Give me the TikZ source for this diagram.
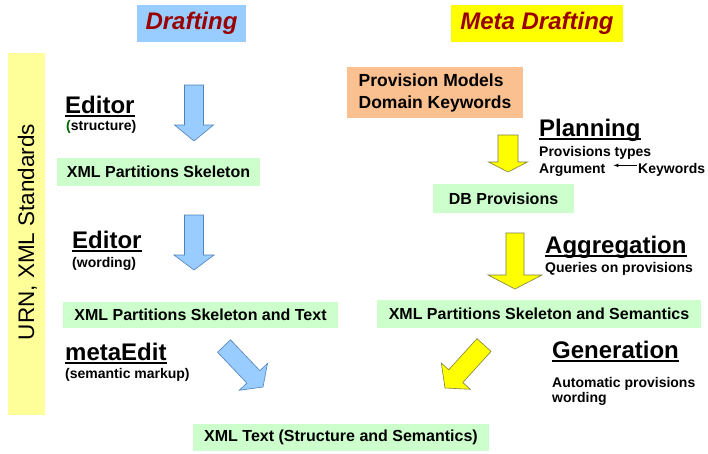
\documentclass[tikz,border=0pt]{standalone}
\usepackage{fontspec}
\setmainfont{Liberation Sans}
\usetikzlibrary{calc}
\definecolor{skyb}{HTML}{99CCFF}
\definecolor{skyline}{HTML}{4F81BD}
\definecolor{ylw}{HTML}{FFFF00}
\definecolor{ylwline}{HTML}{7F7F3F}
\definecolor{paleylw}{HTML}{FFFF99}
\definecolor{palegrn}{HTML}{CCFFCC}
\definecolor{peach}{HTML}{FAC090}
\definecolor{dred}{HTML}{990000}
\definecolor{dgrn}{HTML}{006600}
\newcommand\ulin[1]{\setbox0\hbox{#1}\rlap{\rule[-3.5pt]{\wd0}{1.8pt}}\box0}
% block arrow: tail, tip, half shaft, half head, head length, style
\newcommand\blockarrow[6]{%
  \path[#6] ($#1!#3!90:#2$) -- ($($#2!#5!#1$)!#3!90:#2$) -- ($($#2!#5!#1$)!#4!90:#2$) -- #2
    -- ($($#2!#5!#1$)!#4!-90:#2$) -- ($($#2!#5!#1$)!#3!-90:#2$) -- ($#1!#3!-90:#2$) -- cycle;}
\begin{document}
\begin{tikzpicture}[x=1pt,y=-1pt,
  gbox/.style={fill=palegrn, inner sep=0pt, font=\bfseries\fontsize{16}{19}\selectfont},
  head/.style={anchor=base west, inner sep=0pt, font=\bfseries\fontsize{24}{28}\selectfont},
  small/.style={anchor=base west, inner sep=0pt, font=\bfseries\fontsize{14}{17}\selectfont},
  title/.style={inner sep=0pt, text=dred, font=\bfseries\itshape\fontsize{24}{28}\selectfont},
  bluearrow/.style={fill=skyb, draw=skyline, line width=0.6pt, line join=miter},
  yelarrow/.style={fill=ylw, draw=ylwline, line width=0.6pt, line join=miter}]
\useasboundingbox (0,0) rectangle (708,453);
\fill[white] (0,0) rectangle (708,453);
% titles
\node[title, fill=skyb, minimum width=109pt, minimum height=37pt] (draft) at (191.5,23.5) {Drafting};
\node[title, fill=ylw, minimum width=172pt, minimum height=37pt] (meta) at (537,23.5) {Meta Drafting};
% side bar
\node[fill=paleylw, minimum width=37pt, minimum height=362pt, inner sep=0pt] (bar) at (26.5,234) {};
\node[rotate=90, anchor=base, inner sep=0pt, font=\fontsize{22.5}{27}\selectfont] (urn) at (34,232) {URN, XML Standards};
% left column
\node[head] (ed1) at (65,113) {\ulin{Editor}};
\node[small] (ed1s) at (66,130) {\textcolor{dgrn}{(}structure)};
\node[gbox, minimum width=203pt, minimum height=28pt] (skel) at (158.5,172) {XML Partitions Skeleton};
\node[head] (ed2) at (72,248) {\ulin{Editor}};
\node[small] (ed2s) at (72,267) {(wording)};
\node[gbox, minimum width=275pt, minimum height=26pt] (skeltext) at (200.5,315) {XML Partitions Skeleton and Text};
\node[head] (medit) at (65,360) {\ulin{metaEdit}};
\node[small] (medits) at (65,378) {(semantic markup)};
% right column
\node[fill=peach, minimum width=176pt, minimum height=51pt, inner sep=0pt, align=left,
      font=\bfseries\fontsize{17.5}{22}\selectfont] (models) at (435,92.5) {Provision Models\\Domain Keywords};
\node[head] (plan) at (539,136) {\ulin{Planning}};
\node[small] (ptypes) at (539,156) {Provisions types};
\node[small] (arg) at (539,173) {Argument};
\node[small] (kw) at (638,173) {Keywords};
\draw[-latex, line width=0.7pt, shorten <=1pt, shorten >=8pt] (kw.west) ++(0,-4) coordinate (kwl) -- (kwl -| arg.east);
\node[gbox, minimum width=141pt, minimum height=29pt] (dbprov) at (503.5,198.5) {DB Provisions};
\node[head] (aggr) at (545,253) {\ulin{Aggregation}};
\node[small] (queries) at (545,272) {Queries on provisions};
\node[gbox, minimum width=324pt, minimum height=28pt] (skelsem) at (539,314) {XML Partitions Skeleton and Semantics};
\node[head] (gen) at (552,358) {\ulin{Generation}};
\node[small, align=left, anchor=north west] (auto) at (552,377) {Automatic provisions\\[-2pt]wording};
% bottom
\node[gbox, minimum width=296pt, minimum height=27pt] (xmltext) at (341,437.5) {XML Text (Structure and Semantics)};
% block arrows
\blockarrow{(194,85)}{(194,141)}{9.5pt}{19.5pt}{16pt}{bluearrow}
\blockarrow{(194,215)}{(194,270)}{9.5pt}{20pt}{15pt}{bluearrow}
\blockarrow{(224,346)}{(263,387)}{9pt}{19.5pt}{14pt}{bluearrow}
\blockarrow{(508,135)}{(508,172)}{10pt}{19.5pt}{10pt}{yelarrow}
\blockarrow{(515,233)}{(515,289)}{9pt}{27pt}{14pt}{yelarrow}
\blockarrow{(484,345)}{(445,388)}{9.5pt}{19.5pt}{16pt}{yelarrow}
\end{tikzpicture}
\end{document}
